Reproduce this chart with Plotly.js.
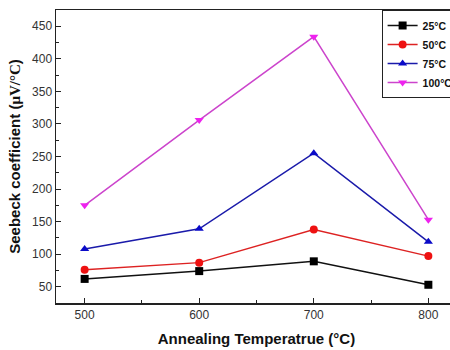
<!DOCTYPE html>
<html>
<head>
<meta charset="utf-8">
<script src="https://cdn.plot.ly/plotly-3.0.1.min.js"></script>
<style>
html,body{margin:0;padding:0;overflow:hidden;background:#fff;}
#chart{width:457px;height:350px;}
</style>
</head>
<body>
<div id="chart"></div>
<script>
const temps = [500, 600, 700, 800];
const s25 = [62, 74, 89, 53];
const s50 = [76, 87, 138, 97];
const s75 = [108, 139, 255, 119];
const s100 = [175, 306, 434, 153];
const names = ['25°C', '50°C', '75°C', '100°C'];
const colors = ['#000000', '#ee1111', '#0a0ac8', '#ee22ee'];
const lineColors = ['#111111', '#dd2222', '#1a1aaa', '#cc44cc'];
const symbols = ['square', 'circle', 'triangle-up', 'triangle-down'];
const series = [s25, s50, s75, s100];

const traces = series.map((s, i) => ({
  x: temps, y: s, name: names[i], type: 'scatter', mode: 'lines+markers',
  line: {color: lineColors[i], width: 1.5},
  marker: {symbol: symbols[i], color: colors[i], size: 8, line: {width: 0}}
}));

const axisCommon = {
  showgrid: false, zeroline: false, showline: true, mirror: true,
  linecolor: '#222', linewidth: 1.5, ticks: 'inside', ticklen: 5,
  tickcolor: '#222', tickwidth: 1, automargin: false,
  tickfont: {family: 'Liberation Sans, Arial', size: 12, color: '#333'}
};

const layout = {
  width: 457, height: 350,
  margin: {l: 56, r: 0, t: 10, b: 47, autoexpand: false},
  paper_bgcolor: '#fff', plot_bgcolor: '#fff',
  showlegend: true,
  legend: {
    x: 0.812, y: 1, xanchor: 'left', yanchor: 'top',
    bordercolor: '#222', borderwidth: 1, bgcolor: '#fff',
    font: {family: 'Liberation Sans, Arial', size: 10.5, color: '#111', weight: 'bold'},
    tracegroupgap: 0, itemwidth: 30
  },
  xaxis: Object.assign({}, axisCommon, {
    range: [475, 825], tickvals: temps, ticktext: temps.map(String),
    minor: {ticks: 'inside', dtick: 50, tick0: 450, ticklen: 3, tickcolor: '#222'},
    title: {text: '<b>Annealing Temperatrue (°C)</b>', standoff: 12,
      font: {family: 'Liberation Sans, Arial', size: 15, color: '#111'}}
  }),
  yaxis: Object.assign({}, axisCommon, {
    range: [25, 475], dtick: 50, tick0: 50,
    minor: {ticks: 'inside', dtick: 25, ticklen: 3, tickcolor: '#222'},
    title: {text: '<b>Seebeck coefficient (<span style="font-family:Liberation Serif">μV/°C</span>)</b>', standoff: 8,
      font: {family: 'Liberation Sans, Arial', size: 15, color: '#111'}}
  })
};

Plotly.newPlot('chart', traces, layout, {displayModeBar: false, staticPlot: true});
</script>
</body>
</html>
